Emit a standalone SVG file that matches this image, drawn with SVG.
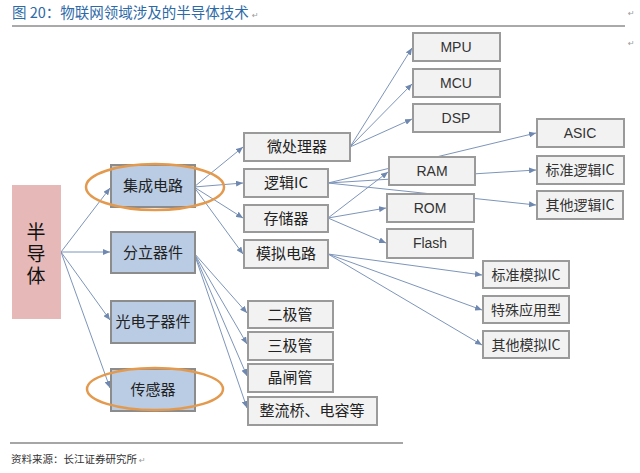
<svg xmlns="http://www.w3.org/2000/svg" width="640" height="473" viewBox="0 0 640 473">
<style>
.g rect{fill:#f2f2f2;stroke:#9a9a9a;stroke-width:2}
.b rect{fill:#b9cce4;stroke:#8c8c8c;stroke-width:2}
.t{font-family:"Noto Sans CJK SC","Liberation Sans",sans-serif;font-size:14px;fill:#333;text-anchor:middle}
.bt{font-family:"Noto Sans CJK SC",sans-serif;font-size:15px;fill:#222;text-anchor:middle}
.lt{font-family:"Liberation Sans","DejaVu Sans",sans-serif;font-size:14px;fill:#333;text-anchor:middle}
.c line{stroke:#7d95ba;stroke-width:1;marker-end:url(#a)}
.ov{fill:none;stroke:#e39a4e;stroke-width:2.5}
.rt{font-family:"DejaVu Sans",sans-serif;font-size:8px;fill:#999}
.v{font-family:"Noto Sans CJK SC",sans-serif;font-size:19px;fill:#111;writing-mode:vertical-rl;letter-spacing:3px}
</style>
<defs>
<marker id="a" markerWidth="8" markerHeight="6" refX="7" refY="3" orient="auto" markerUnits="userSpaceOnUse">
<path d="M0,0 L7,3 L0,6 z" fill="#6f88b0"/>
</marker>
</defs>
<rect width="640" height="473" fill="#fff"/>
<text x="12" y="18" style="font-family:'Noto Sans CJK SC',sans-serif;font-size:14.5px;fill:#2d6aa8">图 20：物联网领域涉及的半导体技术</text>
<text x="252" y="18" class="rt">↵</text>
<text x="628" y="16" class="rt">↵</text>
<text x="628" y="46" class="rt">↵</text>
<line x1="12" y1="26" x2="625" y2="26" stroke="#555" stroke-width="1"/>
<line x1="10" y1="443" x2="403" y2="443" stroke="#888" stroke-width="1.5"/>
<text x="11" y="463" style="font-family:'Noto Sans CJK SC',sans-serif;font-size:10.5px;fill:#333">资料来源：长江证券研究所</text>
<text x="139" y="463" class="rt">↵</text>

<g id="connectors" class="c">
<line x1="61" y1="252" x2="110" y2="188"/>
<line x1="61" y1="252" x2="110" y2="252"/>
<line x1="61" y1="252" x2="110" y2="320"/>
<line x1="61" y1="252" x2="110" y2="388"/>
<line x1="194" y1="187" x2="243" y2="147"/>
<line x1="194" y1="187" x2="243" y2="183"/>
<line x1="194" y1="187" x2="243" y2="218"/>
<line x1="194" y1="187" x2="243" y2="254"/>
<line x1="350" y1="147" x2="412" y2="48"/>
<line x1="350" y1="147" x2="412" y2="84"/>
<line x1="350" y1="147" x2="412" y2="119"/>
<line x1="328" y1="183" x2="536" y2="133"/>
<line x1="328" y1="183" x2="536" y2="170"/>
<line x1="328" y1="183" x2="536" y2="205"/>
<line x1="328" y1="218" x2="388" y2="172"/>
<line x1="328" y1="218" x2="386" y2="208"/>
<line x1="328" y1="218" x2="386" y2="243"/>
<line x1="328" y1="254" x2="482" y2="275"/>
<line x1="328" y1="254" x2="482" y2="310"/>
<line x1="328" y1="254" x2="482" y2="345"/>
<line x1="194" y1="253" x2="247" y2="313"/>
<line x1="194" y1="253" x2="247" y2="344"/>
<line x1="194" y1="253" x2="247" y2="376"/>
<line x1="194" y1="253" x2="247" y2="408"/>
</g>

<g id="n-bandaoti">
<rect x="12" y="185" width="49" height="134" fill="#e6b9b8"/>
<text x="36" y="222" class="v">半导体</text>
</g>

<g id="n-jicheng" class="b"><rect x="111" y="165" width="84" height="42"/><text x="153" y="191" class="bt">集成电路</text></g>
<g id="n-fenli" class="b"><rect x="111" y="232" width="84" height="41"/><text x="153" y="258" class="bt">分立器件</text></g>
<g id="n-guangdian" class="b"><rect x="111" y="301" width="84" height="42"/><text x="153" y="327" class="bt">光电子器件</text></g>
<g id="n-chuanganqi" class="b"><rect x="111" y="369" width="84" height="42"/><text x="153" y="395" class="bt">传感器</text></g>

<ellipse id="ov1" class="ov" cx="155" cy="187" rx="69" ry="23"/>
<ellipse id="ov2" class="ov" cx="155" cy="389" rx="68" ry="21"/>

<g id="n-mpu" class="g"><rect x="413" y="33" width="87" height="28"/><text x="456" y="52" class="lt">MPU</text></g>
<g id="n-mcu" class="g"><rect x="413" y="69" width="87" height="28"/><text x="456" y="88" class="lt">MCU</text></g>
<g id="n-dsp" class="g"><rect x="413" y="104" width="87" height="28"/><text x="456" y="123" class="lt">DSP</text></g>

<g id="n-weichuli" class="g"><rect x="244" y="133" width="106" height="28"/><text x="297" y="152" class="bt">微处理器</text></g>
<g id="n-luoji" class="g"><rect x="244" y="169" width="84" height="28"/><text x="286" y="188" class="bt">逻辑IC</text></g>
<g id="n-cunchu" class="g"><rect x="244" y="205" width="84" height="27"/><text x="286" y="224" class="bt">存储器</text></g>
<g id="n-moni" class="g"><rect x="244" y="240" width="84" height="28"/><text x="286" y="259" class="bt">模拟电路</text></g>

<g id="n-ram" class="g"><rect x="389" y="157" width="86" height="28"/><text x="432" y="176" class="lt">RAM</text></g>
<g id="n-rom" class="g"><rect x="387" y="194" width="87" height="28"/><text x="430" y="213" class="lt">ROM</text></g>
<g id="n-flash" class="g"><rect x="387" y="229" width="86" height="29"/><text x="430" y="248" class="lt">Flash</text></g>

<g id="n-asic" class="g"><rect x="537" y="119" width="87" height="28"/><text x="580" y="138" class="lt">ASIC</text></g>
<g id="n-bzlj" class="g"><rect x="537" y="156" width="87" height="28"/><text x="580" y="175" class="t">标准逻辑IC</text></g>
<g id="n-qtlj" class="g"><rect x="537" y="191" width="86" height="28"/><text x="580" y="210" class="t">其他逻辑IC</text></g>

<g id="n-bzmn" class="g"><rect x="483" y="261" width="86" height="27"/><text x="526" y="280" class="t">标准模拟IC</text></g>
<g id="n-tsyy" class="g"><rect x="483" y="296" width="86" height="27"/><text x="526" y="315" class="t">特殊应用型</text></g>
<g id="n-qtmn" class="g"><rect x="483" y="331" width="86" height="27"/><text x="526" y="350" class="t">其他模拟IC</text></g>

<g id="n-erji" class="g"><rect x="248" y="301" width="85" height="27"/><text x="290" y="320" class="bt">二极管</text></g>
<g id="n-sanji" class="g"><rect x="248" y="332" width="85" height="28"/><text x="290" y="351" class="bt">三极管</text></g>
<g id="n-jingzha" class="g"><rect x="248" y="364" width="85" height="28"/><text x="290" y="383" class="bt">晶闸管</text></g>
<g id="n-zhengliu" class="g"><rect x="248" y="397" width="129" height="28"/><text x="312" y="416" class="bt">整流桥、电容等</text></g>
</svg>
